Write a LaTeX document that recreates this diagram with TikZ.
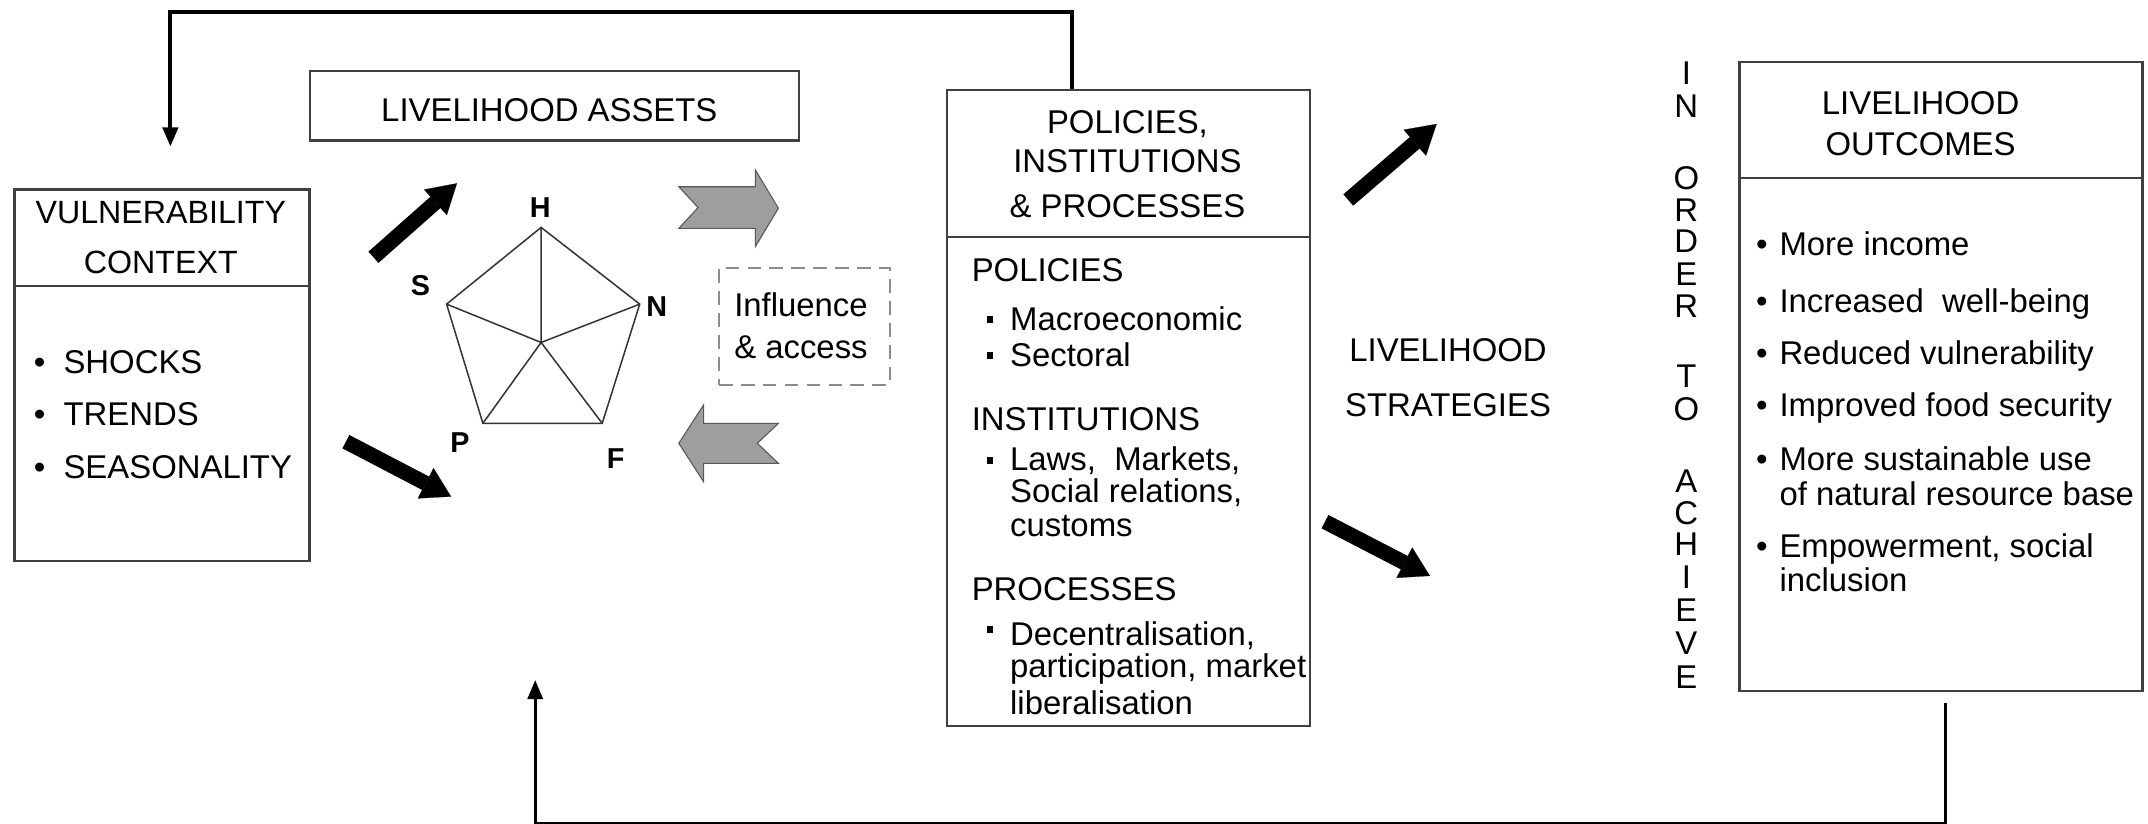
\documentclass[tikz,border=0pt]{standalone}
\usepackage{fontspec}
\setmainfont{Liberation Sans}
\usetikzlibrary{arrows.meta}
\begin{document}
\begin{tikzpicture}[x=1pt,y=-1pt,
  box/.style={draw=black!75, line width=1.7pt, inner sep=0pt, anchor=north west},
  divline/.style={draw=black!75, line width=1.7pt},
  txt/.style={inner sep=0pt, font=\fontsize{24}{28}\selectfont, anchor=base},
  txtl/.style={txt, anchor=base west},
  vtitle/.style={inner sep=0pt, font=\fontsize{23.5}{27}\selectfont, anchor=base},
  pent/.style={inner sep=0pt, font=\fontsize{21}{24}\selectfont\bfseries, anchor=base},
  pentline/.style={draw=black!80, line width=1.1pt, line join=miter},
  fb/.style={draw=black, line width=3pt},
  fbtip/.style={-{Triangle[length=14pt,width=11pt]}},
  blk/.style={draw=black, line width=11pt, -{Triangle[length=21pt,width=25pt,line width=0.1pt]}},
  greyarrow/.style={fill=black!38, draw=black!65, line width=0.8pt, line join=miter},
  dashbox/.style={draw=black!45, dash pattern=on 10pt off 6pt, line width=1.6pt, inner sep=0pt, anchor=north west}
]
\useasboundingbox (0,0) rectangle (1568,601.5);

% ---------- boxes ----------
\node[box, minimum width=215.3pt, minimum height=271.3pt] (vul) at (9.7,137.5) {};
\draw[divline] (9.7,208.8) -- (225,208.8);
\node[box, minimum width=356.9pt, minimum height=50.7pt] (assets) at (225.3,51) {};
\node[box, minimum width=265pt, minimum height=464pt] (pol) at (690.5,65) {};
\draw[divline] (690.5,173) -- (955.5,173);
\node[box, minimum width=294pt, minimum height=459.2pt] (outc) at (1269,44.5) {};
\draw[divline] (1269,130) -- (1563,130);
\node[dashbox, minimum width=124.6pt, minimum height=85.7pt] (infl) at (524,194.6) {};

% ---------- vulnerability context ----------
\node[vtitle] (vt1) at (117.4,163) {VULNERABILITY};
\node[vtitle] (vt2) at (117.4,199.6) {CONTEXT};
\node[txtl] (v1) at (24.5,272.6) {\makebox[21.7pt][l]{•}SHOCKS};
\node[txtl] (v2) at (24.5,310.3) {\makebox[21.7pt][l]{•}TRENDS};
\node[txtl] (v3) at (24.5,349.2) {\makebox[21.7pt][l]{•}SEASONALITY};

% ---------- livelihood assets ----------
\node[txt] (at1) at (401,89) {LIVELIHOOD ASSETS};

% pentagon
\coordinate (pH) at (395,166);
\coordinate (pS) at (326,222);
\coordinate (pN) at (467,222);
\coordinate (pP) at (352.5,309);
\coordinate (pF) at (439.6,309);
\coordinate (pC) at (395,250);
\draw[pentline] (pH) -- (pN) -- (pF) -- (pP) -- (pS) -- cycle;
\draw[pentline] (pC) -- (pH) (pC) -- (pN) (pC) -- (pF) (pC) -- (pP) (pC) -- (pS);
\node[pent] (lH) at (394.4,158.5) {H};
\node[pent] (lS) at (307,215.5) {S};
\node[pent] (lN) at (479.5,231.3) {N};
\node[pent] (lP) at (335.8,330) {P};
\node[pent] (lF) at (449.4,342) {F};

% influence & access
\node[txt] (in1) at (584.7,231) {Influence};
\node[txt] (in2) at (584.7,261.5) {\& access};

% grey arrows
\draw[greyarrow] (495.5,136.3) -- (551.4,136.3) -- (551.4,124) -- (568.2,152) -- (551.4,180)
  -- (551.4,166.7) -- (495.5,166.7) -- (509.6,151.5) -- cycle;
\draw[greyarrow] (495.5,323.6) -- (513.6,295.6) -- (513.6,309) -- (568.2,309) -- (552.8,323.6)
  -- (568.2,338.2) -- (513.6,338.2) -- (513.6,351.6) -- cycle;

% black arrows
\coordinate (a1s) at (272.6,187.8); \coordinate (a1e) at (333.6,133.8);
\coordinate (a2s) at (252.5,322.4); \coordinate (a2e) at (329.3,362.5);
\coordinate (a3s) at (984.2,146);   \coordinate (a3e) at (1048.7,90.5);
\coordinate (a4s) at (967.2,380.8); \coordinate (a4e) at (1043.8,420.4);
\draw[blk] (a1s) -- (a1e);
\draw[blk] (a2s) -- (a2e);
\draw[blk] (a3s) -- (a3e);
\draw[blk] (a4s) -- (a4e);

% ---------- policies, institutions & processes ----------
\node[txt] (pt1) at (823,97.8) {POLICIES,};
\node[txt] (pt2) at (823,125.8) {INSTITUTIONS};
\node[txt] (pt3) at (823,158.5) {\& PROCESSES};
\node[txtl] (ph1) at (709.2,205.3) {POLICIES};
\node[txtl] (pb1) at (720.5,241) {\makebox[16.7pt][l]{\rule[5pt]{4pt}{5pt}}Macroeconomic};
\node[txtl] (pb2) at (720.5,267.3) {\makebox[16.7pt][l]{\rule[5pt]{4pt}{5pt}}Sectoral};
\node[txtl] (ph2) at (709.2,314.1) {INSTITUTIONS};
\node[txtl] (pb3) at (720.5,343.7) {\makebox[16.7pt][l]{\rule[5pt]{4pt}{5pt}}Laws,~~Markets,};
\node[txtl] (pb4) at (737.2,367.1) {Social relations,};
\node[txtl] (pb5) at (737.2,391.5) {customs};
\node[txtl] (ph3) at (709.2,438.7) {PROCESSES};
\node[txtl] (pb6) at (720.5,471.3) {\makebox[16.7pt][l]{\rule[9pt]{4pt}{5pt}}Decentralisation,};
\node[txtl] (pb7) at (737.2,494.5) {participation, market};
\node[txtl] (pb8) at (737.2,521.5) {liberalisation};

% ---------- livelihood strategies ----------
\node[txt] (ls1) at (1057,264) {LIVELIHOOD};
\node[txt] (ls2) at (1057,304.2) {STRATEGIES};

% ---------- in order to achieve ----------
\foreach \L/\Y [count=\i] in {I/53,N/77,O/130,R/153,D/176,E/200,R/223,T/274,O/298,A/351,C/374,H/397,I/421,E/445,V/469,E/494}
  \node[txt, name=lt\i] at (1231,\Y+8.6) {\L};

% ---------- livelihood outcomes ----------
\node[txt] (ot1) at (1402,83.8) {LIVELIHOOD};
\node[txt] (ot2) at (1402,113.6) {OUTCOMES};
\node[txtl] (o1) at (1281.8,186.6) {\makebox[17pt][l]{•}More income};
\node[txtl] (o2) at (1281.8,228.1) {\makebox[17pt][l]{•}Increased~~well-being};
\node[txtl] (o3) at (1281.8,266) {\makebox[17pt][l]{•}Reduced vulnerability};
\node[txtl] (o4) at (1281.8,304.1) {\makebox[17pt][l]{•}Improved food security};
\node[txtl] (o5) at (1281.8,343.8) {\makebox[17pt][l]{•}More sustainable use};
\node[txtl] (o6) at (1298.8,369.1) {of natural resource base};
\node[txtl] (o7) at (1281.8,407.3) {\makebox[17pt][l]{•}Empowerment, social};
\node[txtl] (o8) at (1298.8,432) {inclusion};

% ---------- feedback connectors ----------
\coordinate (fbTL) at (124.4,107);
\draw[fb, fbtip] ([xshift=-41pt]pol.north) -- ++(0,-56.5) -| (fbTL);
\coordinate (fbBL) at (390.7,496.4);
\draw[fb, line width=2.4pt, fbtip] ([xshift=3.4pt,yshift=-8pt]outc.south) -- ++(0,88) -| (fbBL);
\end{tikzpicture}
\end{document}
